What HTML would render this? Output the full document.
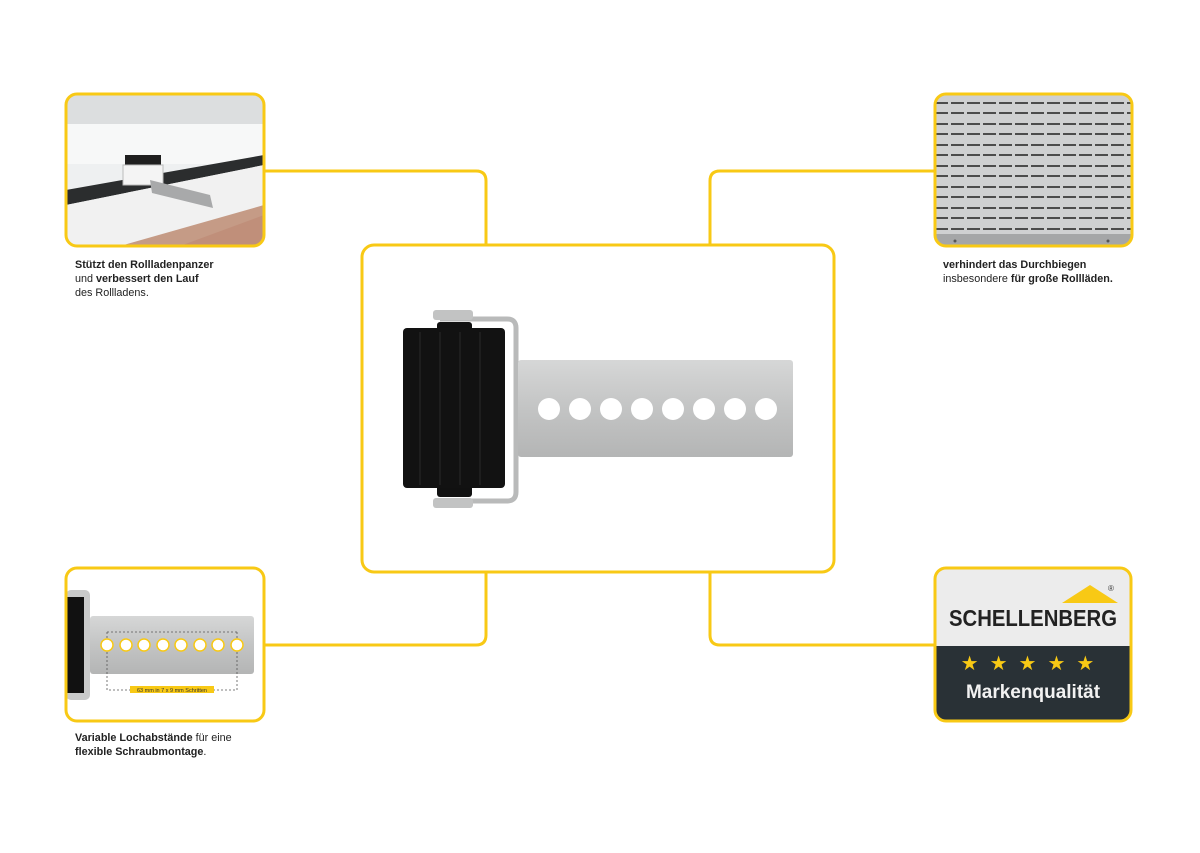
<!DOCTYPE html>
<html><head><meta charset="utf-8"><style>
body{margin:0;width:1200px;height:848px;background:#fff;overflow:hidden;font-family:"Liberation Sans",sans-serif}
</style></head><body>
<svg width="1200" height="848" viewBox="0 0 1200 848" xmlns="http://www.w3.org/2000/svg" font-family="Liberation Sans, sans-serif">
<defs>
<clipPath id="c1"><rect x="66" y="94" width="198" height="152" rx="11"/></clipPath>
<clipPath id="c2"><rect x="935" y="94" width="197" height="152" rx="11"/></clipPath>
<clipPath id="c3"><rect x="66" y="568" width="198" height="153" rx="11"/></clipPath>
<clipPath id="c4"><rect x="935" y="568" width="196" height="153" rx="11"/></clipPath>
<linearGradient id="steel" x1="0" y1="0" x2="0" y2="1"><stop offset="0" stop-color="#d6d7d7"/><stop offset="0.5" stop-color="#c3c4c4"/><stop offset="1" stop-color="#b4b5b5"/></linearGradient>
</defs>
<g fill="none" stroke="#f8c915" stroke-width="3">
<path d="M265 171 H476 Q486 171 486 181 V245"/>
<path d="M934 171 H720 Q710 171 710 181 V245"/>
<path d="M486 572 V635 Q486 645 476 645 H265"/>
<path d="M710 572 V635 Q710 645 720 645 H934"/>
</g>
<!-- top-left photo -->
<g clip-path="url(#c1)">
<rect x="66" y="94" width="198" height="152" fill="#eef0f1"/>
<rect x="66" y="94" width="198" height="30" fill="#dcdedf"/>
<rect x="66" y="124" width="198" height="40" fill="#f7f8f8"/>
<polygon points="66,190 264,155 264,165 66,205" fill="#2b2d2e"/>
<polygon points="66,205 264,165 264,246 66,246" fill="#f1f1f1"/>
<polygon points="120,246 264,205 264,246" fill="#c59b86"/>
<polygon points="180,246 264,215 264,246" fill="#c08f7a"/>
<rect x="125" y="155" width="36" height="22" fill="#1f1f1f"/>
<rect x="123" y="165" width="40" height="20" fill="#f4f4f4" stroke="#bbb"/>
<polygon points="150,180 210,195 213,208 152,193" fill="#a8a9aa"/>
</g>
<rect x="66" y="94" width="198" height="152" rx="11" fill="none" stroke="#f8c915" stroke-width="3"/>
<!-- top-right shutter -->
<g clip-path="url(#c2)">
<rect x="935" y="94" width="197" height="152" fill="#cfd0d1"/>
<g stroke="#3a3a3a" stroke-width="1.8" stroke-dasharray="13,3">
<line x1="935" y1="103" x2="1132" y2="103"/><line x1="935" y1="113" x2="1132" y2="113"/>
<line x1="935" y1="124" x2="1132" y2="124"/><line x1="935" y1="134" x2="1132" y2="134"/>
<line x1="935" y1="145" x2="1132" y2="145"/><line x1="935" y1="155" x2="1132" y2="155"/>
<line x1="935" y1="166" x2="1132" y2="166"/><line x1="935" y1="176" x2="1132" y2="176"/>
<line x1="935" y1="187" x2="1132" y2="187"/><line x1="935" y1="197" x2="1132" y2="197"/>
<line x1="935" y1="208" x2="1132" y2="208"/><line x1="935" y1="218" x2="1132" y2="218"/>
<line x1="935" y1="229" x2="1132" y2="229"/>
</g>
<rect x="935" y="234" width="197" height="13" fill="#a5a6a7"/>
<circle cx="955" cy="241" r="1.5" fill="#555"/><circle cx="1108" cy="241" r="1.5" fill="#555"/>
</g>
<rect x="935" y="94" width="197" height="152" rx="11" fill="none" stroke="#f8c915" stroke-width="3"/>
<!-- bottom-left -->
<g clip-path="url(#c3)">
<rect x="66" y="568" width="198" height="153" fill="#fff"/>
<rect x="66" y="590" width="24" height="110" rx="5" fill="#c9caca"/>
<rect x="66" y="597" width="18" height="96" fill="#111"/>
<rect x="90" y="616" width="164" height="58" rx="3" fill="url(#steel)"/>
<g stroke="#555" stroke-width="0.8" fill="none" stroke-dasharray="2,2">
<path d="M107 632 H237"/><path d="M107 632 V690 H237 V632"/>
</g>
<g fill="#fff" stroke="#f8c915" stroke-width="1.5">
<circle cx="107" cy="645" r="6"/><circle cx="126" cy="645" r="6"/><circle cx="144" cy="645" r="6"/><circle cx="163" cy="645" r="6"/><circle cx="181" cy="645" r="6"/><circle cx="200" cy="645" r="6"/><circle cx="218" cy="645" r="6"/><circle cx="237" cy="645" r="6"/>
</g>
<rect x="130" y="686" width="84" height="7" fill="#f8c915"/>
<text x="172" y="692" font-size="5.5" text-anchor="middle" fill="#333">63 mm in 7 x 9 mm Schritten</text>
</g>
<rect x="66" y="568" width="198" height="153" rx="11" fill="none" stroke="#f8c915" stroke-width="3"/>
<!-- bottom-right logo -->
<g clip-path="url(#c4)">
<rect x="935" y="568" width="196" height="78" fill="#ececec"/>
<rect x="935" y="646" width="196" height="75" fill="#293136"/>
<polygon points="1062,603 1090,585 1118,603" fill="#f8c915"/>
<text x="1108" y="591" font-size="8" fill="#333">®</text>
<text x="1033" y="626" font-size="23" font-weight="bold" text-anchor="middle" fill="#222" textLength="168" lengthAdjust="spacingAndGlyphs">SCHELLENBERG</text>
<text x="1033" y="670" font-size="20" text-anchor="middle" fill="#f8c915" letter-spacing="11">★★★★★</text>
<text x="1033" y="698" font-size="19" font-weight="bold" text-anchor="middle" fill="#f2f2f2">Markenqualität</text>
</g>
<rect x="935" y="568" width="196" height="153" rx="11" fill="none" stroke="#f8c915" stroke-width="3"/>
<!-- center -->
<rect x="362" y="245" width="472" height="327" rx="12" fill="#fff" stroke="#f8c915" stroke-width="3"/>
<path d="M440 319 H507 Q516 319 516 328 V492 Q516 501 507 501 H440" fill="none" stroke="#b9baba" stroke-width="5"/>
<rect x="433" y="310" width="40" height="10" rx="3" fill="#c2c3c3"/>
<rect x="433" y="498" width="40" height="10" rx="3" fill="#c2c3c3"/>
<rect x="437" y="322" width="35" height="12" rx="3" fill="#111"/>
<rect x="437" y="485" width="35" height="12" rx="3" fill="#111"/>
<rect x="403" y="328" width="102" height="160" rx="4" fill="#121212"/>
<g stroke="#2a2a2a" stroke-width="1"><line x1="420" y1="332" x2="420" y2="485"/><line x1="440" y1="332" x2="440" y2="485"/><line x1="460" y1="332" x2="460" y2="485"/><line x1="480" y1="332" x2="480" y2="485"/></g>
<rect x="518" y="360" width="275" height="97" rx="3" fill="url(#steel)"/>
<g fill="#fff"><circle cx="549" cy="409" r="11"/><circle cx="580" cy="409" r="11"/><circle cx="611" cy="409" r="11"/><circle cx="642" cy="409" r="11"/><circle cx="673" cy="409" r="11"/><circle cx="704" cy="409" r="11"/><circle cx="735" cy="409" r="11"/><circle cx="766" cy="409" r="11"/></g>
<!-- captions -->
<g font-size="10.8" fill="#222">
<text x="75" y="268"><tspan font-weight="bold">Stützt den Rollladenpanzer</tspan></text>
<text x="75" y="282">und <tspan font-weight="bold">verbessert den Lauf</tspan></text>
<text x="75" y="296">des Rollladens.</text>
<text x="943" y="268" font-weight="bold">verhindert das Durchbiegen</text>
<text x="943" y="282">insbesondere <tspan font-weight="bold">für große Rollläden.</tspan></text>
<text x="75" y="741"><tspan font-weight="bold">Variable Lochabstände</tspan> für eine</text>
<text x="75" y="755"><tspan font-weight="bold">flexible Schraubmontage</tspan>.</text>
</g>
</svg>
</body></html>
